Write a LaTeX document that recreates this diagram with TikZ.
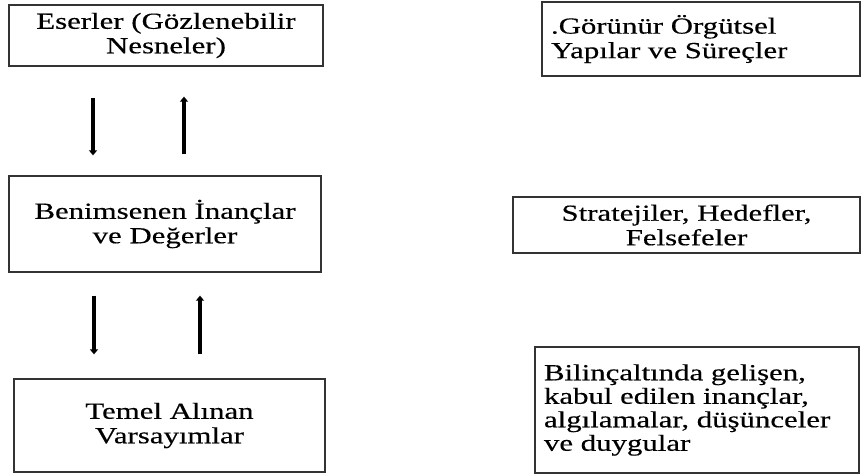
\documentclass[tikz,border=0pt]{standalone}
\usepackage{fontspec}
\setmainfont{Liberation Serif}[FakeStretch=1.34, FakeBold=0.4]
\usetikzlibrary{arrows.meta}

\begin{document}
\begin{tikzpicture}[
  x=1pt, y=-1pt,
  box/.style={draw=black!80, line width=1.3pt, inner sep=0pt, align=center,
              font=\fontsize{23}{24.5}\selectfont},
  lbox/.style={box, align=left, inner xsep=9pt},
  arr/.style={-{Triangle[length=5pt,width=8pt]}, line width=3.8pt}
]
\useasboundingbox (0,0) rectangle (862,475);

% left column
\node[box, minimum width=314pt, minimum height=61pt] (eser) at (166,35.5)
  {Eserler (Gözlenebilir\\Nesneler)};
\node[box, minimum width=312pt, minimum height=96pt] (inanc) at (165,224)
  {Benimsenen İnançlar\\ve Değerler};
\node[box, minimum width=311pt, minimum height=93pt] (temel) at (169.5,425.5)
  {Temel Alınan\\Varsayımlar};

% right column
\node[lbox, text width=300pt, minimum height=74pt] (gorunur) at (701,39)
  {.Görünür Örgütsel\\Yapılar ve Süreçler};
\node[box, minimum width=347pt, minimum height=56pt] (strateji) at (686.5,225)
  {Stratejiler, Hedefler,\\Felsefeler};
\node[lbox, text width=306pt, minimum height=126pt,
      font=\fontsize{23}{23.5}\selectfont] (bilinc) at (697,410)
  {Bilinçaltında gelişen,\\kabul edilen inançlar,\\algılamalar, düşünceler\\ve duygular};

% arrows
\coordinate (d1) at (93,0);
\coordinate (u1) at (184,0);
\coordinate (d2) at (94,0);
\coordinate (u2) at (200,0);
\draw[arr, shorten <=31pt, shorten >=20pt] (eser.south -| d1) -- (inanc.north -| d1);
\draw[arr, shorten <=21pt, shorten >=30pt] (inanc.north -| u1) -- (eser.south -| u1);
\draw[arr, shorten <=23pt, shorten >=24pt] (inanc.south -| d2) -- (temel.north -| d2);
\draw[arr, shorten <=24pt, shorten >=23pt] (temel.north -| u2) -- (inanc.south -| u2);
\end{tikzpicture}
\end{document}
